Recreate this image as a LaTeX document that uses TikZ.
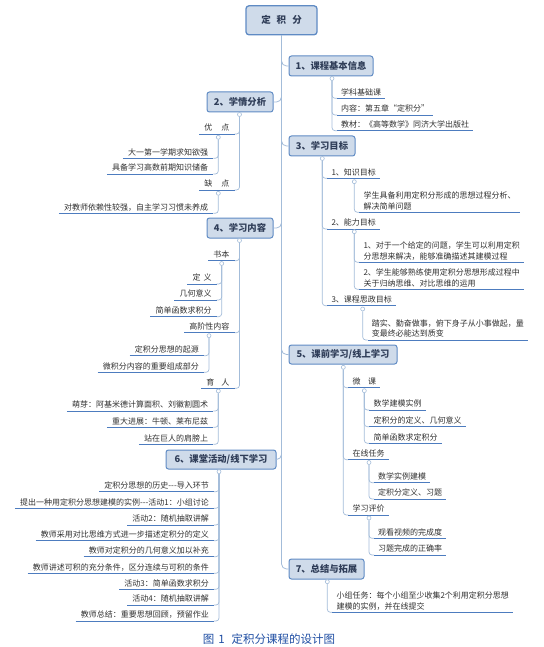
\documentclass[tikz,border=0pt]{standalone}
\usepackage{fontspec}
\newfontfamily\cjk{Noto Sans CJK SC}
\usetikzlibrary{calc}
\definecolor{boxF}{HTML}{CFDBEA}
\definecolor{boxB}{HTML}{5F8BC4}
\definecolor{boxT}{HTML}{2F3D58}
\definecolor{lineC}{HTML}{A3BCD9}
\definecolor{ulC}{HTML}{4D7CBF}
\definecolor{leafT}{HTML}{303030}
\definecolor{capC}{HTML}{1F4EA3}
\tikzset{
  conn/.style={draw=lineC, line width=0.7pt, rounded corners=3pt},
  spine/.style={draw=lineC, line width=0.8pt, rounded corners=5pt},
  uline/.style={draw=ulC, line width=0.8pt},
  mk/.style={circle, draw=lineC, fill=white, line width=0.6pt, minimum size=4pt, inner sep=0pt},
  topic/.style={draw=boxB, fill=boxF, rounded corners=2.5pt, line width=1pt,
    font=\cjk\bfseries\fontsize{9.3}{10}\selectfont, text=boxT, minimum height=20pt, inner sep=0pt},
  rootbox/.style={topic, line width=1.3pt, rounded corners=3pt, font=\cjk\bfseries\fontsize{9.5}{11}\selectfont},
  leafR/.style={anchor=south west, inner xsep=4pt, inner ysep=2.2pt, align=left,
    font=\cjk\fontsize{8}{10.7}\selectfont, text=leafT},
  leafL/.style={anchor=south east, inner xsep=5pt, inner ysep=2.2pt, align=right,
    font=\cjk\fontsize{8}{10.7}\selectfont, text=leafT},
}
\newcommand\rkids[3]{%
  \foreach \nm/\yy/\txt in {#3} {
    \node[leafR] (\nm) at (#2,\yy) {\txt};
    \draw[conn] (#1.south) |- (\nm.south west);
    \draw[uline] (\nm.south west) -- (\nm.south east);
  }}
\newcommand\lkids[3]{%
  \foreach \nm/\yy/\txt in {#3} {
    \node[leafL] (\nm) at (#2,\yy) {\txt};
    \draw[conn] (#1.south) |- (\nm.south east);
    \draw[uline] (\nm.south west) -- (\nm.south east);
  }}
\begin{document}
\begin{tikzpicture}[x={(1pt,0)}, y={(0,-1pt)}]
\useasboundingbox (0,0) rectangle (543,647);

% root and main topics
\node[rootbox, minimum width=71pt, minimum height=29pt] (root) at (281.5,20.3) {定\hspace{6pt}积\hspace{6pt}分};
\node[topic, minimum width=84pt] (b1) at (331,66) {1、课程基本信息};
\node[topic, minimum width=66pt] (b2) at (240,102) {2、学情分析};
\node[topic, minimum width=66pt] (b3) at (322,146) {3、学习目标};
\node[topic, minimum width=66pt] (b4) at (240,228) {4、学习内容};
\node[topic, minimum width=108pt, minimum height=19pt] (b5) at (343,354.5) {5、课前学习/线上学习};
\node[topic, minimum width=110pt, minimum height=19pt] (b6) at (221,459.5) {6、课堂活动/线下学习};
\node[topic, minimum width=75pt] (b7) at (326.5,569) {7、总结与拓展};

\foreach \b in {b1,b3,b5,b7} { \draw[spine] (root.south) |- (\b.west); }
\foreach \b in {b2,b4,b6} { \draw[spine] (root.south) |- (\b.east); }

% markers
\node[mk] (m1) at (332,78.5) {};
\node[mk] (m2) at (239.5,114.5) {};
\node[mk] (m3) at (322.3,158.5) {};
\node[mk] (m4) at (239.5,240.5) {};
\node[mk] (m5) at (343.3,367.3) {};
\node[mk] (m6) at (219,471.7) {};
\node[mk] (m7) at (327.3,581.7) {};
\foreach \b/\m in {b1/m1,b2/m2,b3/m3,b4/m4,b5/m5,b6/m6,b7/m7} { \draw[conn] (\b.south) -- (\m.north); }

% 1
\rkids{m1}{337}{c11/98.3/{学科基础课}, c12/115/{内容：第五章“定积分”}, c13/130.7/{教材：《高等数学》同济大学出版社}}

% 3
\rkids{m3}{327.3}{c31/178.3/{1、知识目标}, c32/229/{2、能力目标}, c33/305.7/{3、课程思政目标}}
\node[mk] (m31) at (354.3,181.7) {};
\node[mk] (m32) at (354.3,231.7) {};
\node[mk] (m33) at (362.7,309) {};
\rkids{m31}{359.3}{c311/212.3/{学生具备利用定积分形成的思想过程分析、\\解决简单问题}}
\rkids{m32}{359.3}{c321/262.3/{1、对于一个给定的问题，学生可以利用定积\\分思想来解决，能够准确描述其建模过程}, c322/289.3/{2、学生能够熟练使用定积分思想形成过程中\\关于归纳思维、对比思维的运用}}
\rkids{m33}{367.7}{c331/340/{踏实、勤奋做事，俯下身子从小事做起，量\\变最终必能达到质变}}

% 5
\rkids{m5}{348.3}{c51/387.7/{微\hspace{7.5pt}课}, c52/459.7/{在线任务}, c53/515/{学习评价}}
\node[mk] (m51) at (364.3,390.7) {};
\node[mk] (m52) at (369,462.5) {};
\node[mk] (m53) at (369,518) {};
\rkids{m51}{369.3}{c511/410/{数学建模实例}, c512/426.7/{定积分的定义、几何意义}, c513/443.3/{简单函数求定积分}}
\rkids{m52}{374}{c521/482.7/{数学实例建模}, c522/499/{定积分定义、习题}}
\rkids{m53}{374}{c531/538.3/{观看视频的完成度}, c532/555/{习题完成的正确率}}

% 7
\rkids{m7}{332.3}{c71/612.3/{小组任务：每个小组至少收集2个利用定积分思想\\建模的实例，并在线提交}}

% 2
\lkids{m2}{234.5}{c21/134/{优\hspace{9pt}点}, c22/190/{缺\hspace{9pt}点}}
\node[mk] (m21) at (218.3,137.3) {};
\node[mk] (m22) at (218.3,193.3) {};
\lkids{m21}{213.3}{c211/158.3/{大一第一学期求知欲强}, c212/174/{具备学习高数前期知识储备}}
\lkids{m22}{213.3}{c221/213.3/{对教师依赖性较强，自主学习习惯未养成}}

% 4
\lkids{m4}{234.5}{c41/260.7/{书本}, c42/332.7/{高阶性内容}, c43/388.3/{育\hspace{7pt}人}}
\node[mk] (m41) at (221.7,263.5) {};
\node[mk] (m42) at (209,335.7) {};
\node[mk] (m43) at (218.3,391) {};
\lkids{m41}{216.7}{c411/284/{定\hspace{3pt}义}, c412/300/{几何意义}, c413/316.7/{简单函数求积分}}
\lkids{m42}{204}{c421/355.7/{定积分思想的起源}, c422/372.3/{微积分内容的重要组成部分}}
\lkids{m43}{213.3}{c431/411/{萌芽：阿基米德计算面积、刘徽割圆术}, c432/427.3/{重大进展：牛顿、莱布尼兹}, c433/444.3/{站在巨人的肩膀上}}

% 6
\lkids{m6}{214}{c61/491.7/{定积分思想的历史-{}-{}-导入环节}, c62/508.3/{提出一种用定积分思想建模的实例-{}-{}-活动1：小组讨论}, c63/525/{活动2：随机抽取讲解}, c64/540.7/{教师采用对比思维方式进一步描述定积分的定义}, c65/556.7/{教师对定积分的几何意义加以补充}, c66/573.3/{教师讲述可积的充分条件，区分连续与可积的条件}, c67/589.3/{活动3：简单函数求积分}, c68/605/{活动4：随机抽取讲解}, c69/621/{教师总结：重要思想回顾，预留作业}}

% caption
\node[font=\cjk\fontsize{11.5}{13}\selectfont, text=capC, inner sep=0pt] (cap) at (269,639.3) {图\hspace{4pt}1\hspace{7pt}定积分课程的设计图};
\end{tikzpicture}
\end{document}
